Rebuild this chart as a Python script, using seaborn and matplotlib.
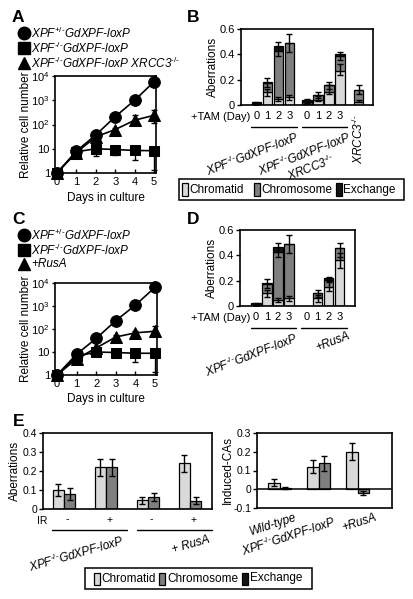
import numpy as np
import pandas as pd
import seaborn as sns
import matplotlib
matplotlib.use("Agg")
import matplotlib.pyplot as plt
import matplotlib.transforms as mtransforms
from matplotlib.patches import Rectangle
from matplotlib.lines import Line2D
from matplotlib.ticker import NullLocator

# ---------------- data ----------------
days = [0, 1, 2, 3, 4, 5]

# Panel A growth curves
a_het = [1, 8, 37, 210, 1000, 5800]
a_ko = [1, 7.5, 10, 9.3, 8.5, 8.3]
a_ko_lo = [1, 6.5, 5, 5.5, 3.5, 1.3]
a_ko_hi = [1, 8.5, 12, 11, 10, 9.5]
a_x3 = [1, 7, 31, 62, 150, 240]
a_x3_lo = [1, 6.5, 27, 50, 95, 120]
a_x3_hi = [1, 7.5, 35, 75, 240, 400]

# Panel C growth curves
c_het = [1, 8, 39, 230, 1100, 6500]
c_ko = [1, 6.5, 10, 9.5, 8.8, 8.8]
c_ko_lo = [1, 5.5, 6.5, 6, 3.5, 1.3]
c_ko_hi = [1, 7.5, 12, 11, 10, 10]
c_rus = [1, 5, 15, 45, 68, 80]
c_rus_lo = [1, 4.5, 13, 38, 55, 55]
c_rus_hi = [1, 5.5, 17, 55, 85, 130]

tam_days = ["0", "1", "2", "3"]
# XPF-/- GdXPF-loxP (panels B and D)
g1_chromatid = [0.003, 0.10, 0.05, 0.06]
g1_chromosome = [0.005, 0.075, 0.38, 0.43]
g1_exchange = [0.012, 0.005, 0.035, 0.0]
g1_err1_c = [0.003, 0.10, 0.05, 0.06]
g1_err1_h = [0.002, 0.03, 0.015, 0.02]
g1_err2_c = [0.02, 0.175, 0.44, 0.49]
g1_err2_h = [0.005, 0.035, 0.055, 0.07]

# XPF-/- GdXPF-loxP XRCC3-/- (panel B)
g2_chromatid = [0.005, 0.04, 0.10, 0.265]
g2_chromosome = [0.017, 0.038, 0.057, 0.125]
g2_exchange = [0.015, 0.0, 0.0, 0.01]
g2_err1_c = [0.01, 0.05, 0.12, 0.28]
g2_err1_h = [0.005, 0.02, 0.035, 0.04]
g2_err2_c = [0.035, 0.08, 0.155, 0.385]
g2_err2_h = [0.015, 0.025, 0.03, 0.03]

# XRCC3-/- (panel B)
x3_chromatid = [0.025]
x3_chromosome = [0.095]
x3_exchange = [0.0]
x3_err1_c = [0.03]
x3_err1_h = [0.01]
x3_err2_c = [0.12]
x3_err2_h = [0.035]

# +RusA (panel D), days 1-3
r_days = [1, 2, 3]
r_chromatid = [0.06, 0.15, 0.36]
r_chromosome = [0.04, 0.055, 0.10]
r_exchange = [0.0, 0.015, 0.0]
r_err1_c = [0.06, 0.16, 0.36]
r_err1_h = [0.025, 0.04, 0.06]
r_err2_c = [0.10, 0.21, 0.44]
r_err2_h = [0.03, 0.02, 0.055]

# Panel E left
e_ir = ["-", "+", "-", "+"]
e_chromatid = [0.10, 0.22, 0.045, 0.24]
e_chromatid_err = [0.03, 0.045, 0.018, 0.045]
e_chromosome = [0.08, 0.22, 0.063, 0.043]
e_chromosome_err = [0.03, 0.045, 0.02, 0.018]

# Panel E right
f_groups = ["Wild-type", r"XPF$^{\text{-/-}}$GdXPF-loxP", "+RusA"]
f_chromatid = [0.036, 0.12, 0.20]
f_chromatid_err = [0.02, 0.035, 0.045]
f_chromosome = [0.008, 0.14, -0.02]
f_chromosome_err = [0.004, 0.04, 0.012]

# ---------------- style ----------------
sns.set_theme(style="ticks")
plt.rcParams["font.family"] = ["Liberation Sans", "DejaVu Sans"]
plt.rcParams.update({
    "mathtext.fontset": "custom",
    "mathtext.rm": "Liberation Sans",
    "mathtext.it": "Liberation Sans:italic",
    "mathtext.bf": "Liberation Sans:bold",
    "axes.unicode_minus": False,
    "axes.linewidth": 1.0,
    "axes.edgecolor": "black",
    "xtick.color": "black",
    "ytick.color": "black",
    "xtick.major.width": 1.0,
    "ytick.major.width": 1.0,
    "axes.labelcolor": "black",
    "text.color": "black",
})

CT, CS, EX = "#d9d9d9", "#7f7f7f", "#141414"
TICK = 7.5
LAB = 8.5

W, H = 413, 599
fig = plt.figure(figsize=(W / 100, H / 100), dpi=100)
fig.patch.set_facecolor("white")


def axpx(l, t, r, b):
    return fig.add_axes([l / W, 1 - b / H, (r - l) / W, (b - t) / H])


def fx(x):
    return x / W


def fy(y):
    return 1 - y / H


def blend(ax):
    return mtransforms.blended_transform_factory(ax.transData, ax.transAxes)


def panel_letter(s, x, y):
    fig.text(fx(x), fy(y), s, fontsize=12.5, fontweight="bold", ha="left", va="center")


def ytick_style(ax):
    ax.tick_params(axis="y", direction="out", length=3, pad=1.2, labelsize=TICK)


def growth(ax, het, ko, ko_lo, ko_hi, third, t_lo, t_hi, xlab_y, ylab_x):
    ax.set_yscale("log")
    ax.errorbar(days, ko, yerr=[np.subtract(ko, ko_lo), np.subtract(ko_hi, ko)],
                fmt="none", ecolor="black", elinewidth=1, capsize=2.5, capthick=1,
                zorder=3, clip_on=False)
    ax.errorbar(days, third, yerr=[np.subtract(third, t_lo), np.subtract(t_hi, third)],
                fmt="none", ecolor="black", elinewidth=1, capsize=2.5, capthick=1,
                zorder=3, clip_on=False)
    sns.lineplot(x=days, y=ko, ax=ax, color="black", marker="s", markersize=7.6,
                 markeredgecolor="black", linewidth=1.2, clip_on=False, zorder=5)
    sns.lineplot(x=days, y=third, ax=ax, color="black", marker="^", markersize=8.4,
                 markeredgecolor="black", linewidth=1.2, clip_on=False, zorder=5)
    sns.lineplot(x=days, y=het, ax=ax, color="black", marker="o", markersize=8.4,
                 markeredgecolor="black", linewidth=1.2, clip_on=False, zorder=6)
    ax.set_xlim(-0.1, 5.1)
    ax.set_ylim(1, 1e4)
    ax.set_yticks([1, 10, 100, 1000, 10000],
                  ["1", "10", r"10$^2$", r"10$^3$", r"10$^4$"])
    ax.yaxis.set_minor_locator(NullLocator())
    ax.set_xticks(days, [str(d) for d in days])
    ax.tick_params(axis="x", direction="in", length=3, pad=3, labelsize=TICK + 0.5)
    ax.tick_params(axis="y", direction="out", length=2.5, pad=1.2, labelsize=TICK + 0.5)
    ax.set_xlabel("Days in culture", fontsize=LAB)
    ax.xaxis.set_label_coords(0.5, xlab_y)
    ax.set_ylabel("Relative cell number", fontsize=LAB)
    ax.yaxis.set_label_coords(ylab_x, 0.5)
    for sp in ax.spines.values():
        sp.set_linewidth(1.2)
        sp.set_zorder(4)


def legend_marker(marker, x, y, size):
    fig.add_artist(Line2D([fx(x)], [fy(y)], marker=marker, markersize=size, color="black",
                          linestyle="none", transform=fig.transFigure))


def stacked(ax, pos, ct, cs, ex, e1c, e1h, e2c, e2h, width):
    ct, cs, ex = np.asarray(ct), np.asarray(cs), np.asarray(ex)
    kw = dict(edgecolor="black", linewidth=0.9, zorder=2)
    ax.bar(pos, ct, width, color=CT, **kw)
    ax.bar(pos, cs, width, bottom=ct, color=CS, **kw)
    ax.bar(pos, ex, width, bottom=ct + cs, color=EX, **kw)
    ekw = dict(fmt="none", ecolor="black", elinewidth=1, capsize=2.5, capthick=1, zorder=4)
    ax.errorbar(pos, e1c, yerr=e1h, **ekw)
    ax.errorbar(pos, e2c, yerr=e2h, **ekw)


def aberr_axes(ax, xlim):
    ax.set_ylim(0, 0.6)
    ax.set_xlim(*xlim)
    ax.set_yticks([0, 0.2, 0.4, 0.6], ["0", "0.2", "0.4", "0.6"])
    ax.tick_params(axis="y", direction="out", length=3, pad=1.2, labelsize=TICK + 0.5)
    ax.tick_params(axis="x", length=0, pad=4, labelsize=TICK + 0.5)
    ax.set_ylabel("Aberrations", fontsize=LAB)
    for sp in ax.spines.values():
        sp.set_linewidth(1.2)


def legend_box(x0, y0, x1, y1, patch_x, text_x):
    fig.add_artist(Rectangle((fx(x0), fy(y1)), (x1 - x0) / W, (y1 - y0) / H,
                             transform=fig.transFigure, fill=False, edgecolor="black", lw=1.1))
    ym = (y0 + y1) / 2
    for px, tx, col, lab in zip(patch_x, text_x, [CT, CS, EX],
                                ["Chromatid", "Chromosome", "Exchange"]):
        fig.add_artist(Rectangle((fx(px), fy(ym + 6)), 6 / W, 12 / H, transform=fig.transFigure,
                                 facecolor=col, edgecolor="black", lw=0.9))
        fig.text(fx(tx), fy(ym), lab, fontsize=LAB, ha="left", va="center")


het_lab = r"XPF$^{\text{+/-}}$GdXPF-loxP"
ko_lab = r"XPF$^{\text{-/-}}$GdXPF-loxP"

# ---------------- Panel A ----------------
panel_letter("A", 12, 18)
legend_marker("o", 24, 33, 9)
legend_marker("s", 24, 48, 8)
legend_marker("^", 24, 63, 9)
fig.text(fx(31), fy(33), het_lab, fontsize=LAB, style="italic", va="center")
fig.text(fx(31), fy(48), ko_lab, fontsize=LAB, style="italic", va="center")
fig.text(fx(31), fy(63), ko_lab + r" XRCC3$^{\text{-/-}}$", fontsize=LAB, style="italic", va="center")
axA = axpx(55, 76, 156, 173)
growth(axA, a_het, a_ko, a_ko_lo, a_ko_hi, a_x3, a_x3_lo, a_x3_hi, -0.195, -0.225)

# ---------------- Panel C ----------------
panel_letter("C", 12, 219)
legend_marker("o", 24, 235, 9)
legend_marker("s", 24, 250, 8)
legend_marker("^", 24, 264, 9)
fig.text(fx(31), fy(235), het_lab, fontsize=LAB, style="italic", va="center")
fig.text(fx(31), fy(250), ko_lab, fontsize=LAB, style="italic", va="center")
fig.text(fx(31), fy(264), "+RusA", fontsize=LAB, style="italic", va="center")
axC = axpx(55, 283, 157, 375)
growth(axC, c_het, c_ko, c_ko_lo, c_ko_hi, c_rus, c_rus_lo, c_rus_hi, -0.195, -0.223)

# ---------------- Panel B ----------------
panel_letter("B", 187, 18)
axB = axpx(241, 29, 373, 105)
g1_pos = np.arange(len(tam_days), dtype=float)
g2_pos = g1_pos + 4.6
x3_pos = np.array([9.3])
bw = 0.85
stacked(axB, g1_pos, g1_chromatid, g1_chromosome, g1_exchange,
        g1_err1_c, g1_err1_h, g1_err2_c, g1_err2_h, bw)
stacked(axB, g2_pos, g2_chromatid, g2_chromosome, g2_exchange,
        g2_err1_c, g2_err1_h, g2_err2_c, g2_err2_h, bw)
stacked(axB, x3_pos, x3_chromatid, x3_chromosome, x3_exchange,
        x3_err1_c, x3_err1_h, x3_err2_c, x3_err2_h, bw)
aberr_axes(axB, (-1.4, 10.6))
axB.yaxis.set_label_coords(-0.165, 0.5)
axB.set_xticks(np.concatenate([g1_pos, g2_pos]), tam_days + tam_days)
axB.text((250 - 241) / 132, -0.158, "+TAM (Day)", transform=axB.transAxes,
         ha="right", va="center", fontsize=TICK + 0.5)
tb = blend(axB)
axB.plot([g1_pos[0] - 0.45, g1_pos[-1] + 0.65], [-0.29, -0.29], transform=tb,
         color="black", lw=1, clip_on=False)
axB.plot([g2_pos[0] - 0.5, g2_pos[-1] + 0.6], [-0.29, -0.29], transform=tb,
         color="black", lw=1, clip_on=False)
axB.text(3.6, -0.32, ko_lab, transform=tb, rotation=21, rotation_mode="anchor",
         ha="right", va="top", style="italic", fontsize=LAB)
axB.text(8.35, -0.32, ko_lab + "\n" + r"XRCC3$^{\text{-/-}}$", transform=tb, rotation=21,
         rotation_mode="anchor", ha="right", va="top", style="italic", fontsize=LAB,
         multialignment="center", linespacing=1.0)
axB.text(9.3, -0.13, r"XRCC3$^{\text{-/-}}$", transform=tb, rotation=90,
         ha="center", va="top", style="italic", fontsize=LAB)
legend_box(179, 179, 404, 200, [182, 254, 336], [189, 261, 343])

# ---------------- Panel D ----------------
panel_letter("D", 187, 220)
axD = axpx(240, 230, 355, 306)
r_pos = 4.6 + np.asarray(r_days, dtype=float)
stacked(axD, g1_pos, g1_chromatid, g1_chromosome, g1_exchange,
        g1_err1_c, g1_err1_h, g1_err2_c, g1_err2_h, bw)
stacked(axD, r_pos, r_chromatid, r_chromosome, r_exchange,
        r_err1_c, r_err1_h, r_err2_c, r_err2_h, bw)
aberr_axes(axD, (-1.45, 9.0))
axD.yaxis.set_label_coords(-0.195, 0.5)
axD.set_xticks(np.concatenate([g1_pos, g2_pos]), tam_days + tam_days)
axD.text((250 - 240) / 115, -0.158, "+TAM (Day)", transform=axD.transAxes,
         ha="right", va="center", fontsize=TICK + 0.5)
td = blend(axD)
axD.plot([g1_pos[0] - 0.45, g1_pos[-1] + 0.65], [-0.29, -0.29], transform=td,
         color="black", lw=1, clip_on=False)
axD.plot([g2_pos[0] - 0.5, g2_pos[-1] + 0.65], [-0.29, -0.29], transform=td,
         color="black", lw=1, clip_on=False)
axD.text(3.5, -0.32, ko_lab, transform=td, rotation=21, rotation_mode="anchor",
         ha="right", va="top", style="italic", fontsize=LAB)
axD.text(8.3, -0.32, "+RusA", transform=td, rotation=21, rotation_mode="anchor",
         ha="right", va="top", style="italic", fontsize=LAB)

# ---------------- Panel E (left) ----------------
panel_letter("E", 13, 421)
axE = axpx(43, 433, 212, 509)
e_pos = np.arange(len(e_ir), dtype=float)
ew = 0.27
kw = dict(edgecolor="black", linewidth=0.9, zorder=2)
axE.bar(e_pos - ew / 2, e_chromatid, ew, color=CT, **kw)
axE.bar(e_pos + ew / 2, e_chromosome, ew, color=CS, **kw)
ekw = dict(fmt="none", ecolor="black", elinewidth=1, capsize=2.5, capthick=1, zorder=4)
axE.errorbar(e_pos - ew / 2, e_chromatid, yerr=e_chromatid_err, **ekw)
axE.errorbar(e_pos + ew / 2, e_chromosome, yerr=e_chromosome_err, **ekw)
axE.set_xlim(-0.5, 3.52)
axE.set_ylim(0, 0.4)
axE.set_yticks([0, 0.1, 0.2, 0.3, 0.4], ["0", "0.1", "0.2", "0.3", "0.4"])
axE.set_xticks(e_pos + 0.08, e_ir)
ytick_style(axE)
axE.tick_params(axis="x", length=0, pad=4, labelsize=TICK)
axE.set_ylabel("Aberrations", fontsize=LAB)
axE.yaxis.set_label_coords(-0.13, 0.5)
for sp in axE.spines.values():
    sp.set_linewidth(1.2)
axE.text(-0.005, -0.158, "IR", transform=axE.transAxes, ha="center", va="center", fontsize=TICK)
te = blend(axE)
axE.plot([-0.29, 1.5], [-0.28, -0.28], transform=te, color="black", lw=1, clip_on=False)
axE.plot([1.74, 3.52], [-0.28, -0.28], transform=te, color="black", lw=1, clip_on=False)
axE.text(1.37, -0.32, ko_lab, transform=te, rotation=16, rotation_mode="anchor",
         ha="right", va="top", style="italic", fontsize=LAB)
axE.text(3.43, -0.33, "+ RusA", transform=te, rotation=16, rotation_mode="anchor",
         ha="right", va="top", style="italic", fontsize=LAB)

# ---------------- Panel E (right) ----------------
axF = axpx(257, 433, 392, 508)
f_pos = np.arange(len(f_groups), dtype=float)
fw = 0.29
axF.bar(f_pos - fw / 2, f_chromatid, fw, color=CT, **kw)
axF.bar(f_pos + fw / 2, f_chromosome, fw, color=CS, **kw)
axF.errorbar(f_pos - fw / 2, f_chromatid, yerr=f_chromatid_err, **ekw)
axF.errorbar(f_pos + fw / 2, f_chromosome, yerr=f_chromosome_err, **ekw)
axF.axhline(0, color="black", lw=1.1, zorder=3)
axF.set_xlim(-0.58, 2.88)
axF.set_ylim(-0.1, 0.3)
axF.set_yticks([-0.1, 0, 0.1, 0.2, 0.3], ["-0.1", "0", "0.1", "0.2", "0.3"])
axF.set_xticks([])
ytick_style(axF)
axF.set_ylabel("Induced-CAs", fontsize=LAB)
axF.yaxis.set_label_coords(-0.175, 0.5)
for sp in axF.spines.values():
    sp.set_linewidth(1.2)
tf = blend(axF)
f_label_x = [0.38, 1.37, 2.42]
f_label_y = [-0.05, -0.08, -0.04]
for xl, yl, lab in zip(f_label_x, f_label_y, f_groups):
    axF.text(xl, yl, lab, transform=tf, rotation=18, rotation_mode="anchor",
             ha="right", va="top", style="italic", fontsize=LAB)

legend_box(85, 568, 312, 589, [94, 159, 242], [101, 167, 250])

fig.savefig("out.png", dpi=100, facecolor="white")
